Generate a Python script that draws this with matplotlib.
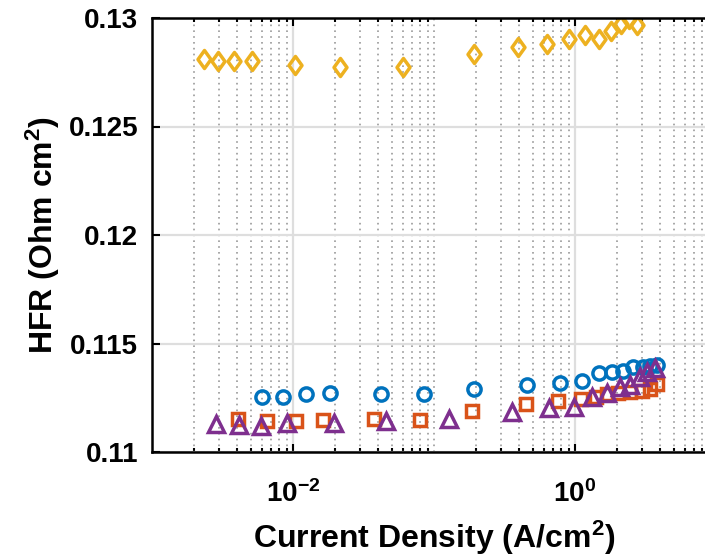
"""HFR vs current density, four conditions, log x axis (MATLAB-style look)."""

import matplotlib

matplotlib.use("Agg")
import matplotlib.pyplot as plt
import numpy as np
from matplotlib.path import Path
from matplotlib.ticker import LogLocator, NullFormatter

plt.rcParams["font.family"] = ["Liberation Sans", "DejaVu Sans"]
plt.rcParams["font.weight"] = "bold"
plt.rcParams["mathtext.fontset"] = "custom"
plt.rcParams["mathtext.rm"] = "Liberation Sans:bold"
plt.rcParams["mathtext.bf"] = "Liberation Sans:bold"
plt.rcParams["mathtext.default"] = "regular"

# --- data ---
j_circle = [0.00605, 0.00845, 0.01236, 0.01828, 0.0418, 0.0849, 0.191, 0.459, 0.783,
            1.112, 1.479, 1.815, 2.19, 2.58, 3.02, 3.40, 3.82]
hfr_circle = [0.11255, 0.11252, 0.11267, 0.11270, 0.11267, 0.11266, 0.11290, 0.11307, 0.11317,
              0.11329, 0.11363, 0.11367, 0.11375, 0.11390, 0.11393, 0.11396, 0.11402]

j_square = [0.00409, 0.00658, 0.0105, 0.01625, 0.0375, 0.0796, 0.185, 0.447, 0.762,
            1.104, 1.403, 1.68, 2.03, 2.45, 2.97, 3.40, 3.83]
hfr_square = [0.11151, 0.11144, 0.11143, 0.11149, 0.11154, 0.11147, 0.11189, 0.11219, 0.11235,
              0.11244, 0.11255, 0.11266, 0.11271, 0.11275, 0.11282, 0.11289, 0.11312]

j_diamond = [0.00234, 0.00292, 0.00382, 0.00514, 0.01038, 0.0214, 0.060, 0.193, 0.396,
             0.637, 0.906, 1.178, 1.487, 1.80, 2.11, 2.42, 2.77]
hfr_diamond = [0.12812, 0.12802, 0.12802, 0.12802, 0.12783, 0.12776, 0.12776, 0.12835, 0.12868,
               0.12879, 0.12902, 0.12922, 0.12905, 0.12940, 0.12974, 0.12994, 0.12968]

j_triangle = [0.00284, 0.00416, 0.00593, 0.00902, 0.0196, 0.0457, 0.127, 0.360, 0.651,
              0.989, 1.313, 1.68, 2.09, 2.45, 2.89, 3.26, 3.69]
hfr_triangle = [0.11129, 0.11124, 0.11121, 0.11132, 0.11132, 0.11143, 0.11151, 0.11186, 0.11201,
                0.11207, 0.11255, 0.11271, 0.11301, 0.11309, 0.11347, 0.11370, 0.11386]

y_ticks = [0.11, 0.115, 0.12, 0.125, 0.13]
y_ticklabels = ["0.11", "0.115", "0.12", "0.125", "0.13"]
x_ticks = [1e-2, 1e0]
x_ticklabels = [r"10$^{-2}$", r"10$^{0}$"]

# slightly tall diamond like the reference's
DIAMOND = Path([(0, 1), (0.72, 0), (0, -1), (-0.72, 0), (0, 1)],
               [Path.MOVETO, Path.LINETO, Path.LINETO, Path.LINETO, Path.CLOSEPOLY])


def main():
    fig = plt.figure(figsize=(7.05, 5.57), dpi=100)
    ax = fig.add_axes([152 / 705, 1 - 452 / 557, 564 / 705, 434 / 557])

    mk = dict(linestyle="none", markerfacecolor="none", markeredgewidth=2.5)
    ax.plot(j_circle, hfr_circle, marker="o", color="#0072BD", markersize=9.5, **mk)
    ax.plot(j_square, hfr_square, marker="s", color="#D95319", markersize=8, **mk)
    ax.plot(j_diamond, hfr_diamond, marker=DIAMOND, color="#EDB120", markersize=13, **mk)
    ax.plot(j_triangle, hfr_triangle, marker="^", color="#7E2F8E", markersize=11, **mk)

    ax.set_xscale("log")
    ax.set_xlim(1e-3, 1e1)
    ax.set_ylim(0.11, 0.13)

    ax.set_xticks(x_ticks, x_ticklabels)
    ax.xaxis.set_minor_locator(LogLocator(base=10, subs=np.arange(2, 10)))
    ax.xaxis.set_minor_formatter(NullFormatter())
    ax.set_yticks(y_ticks, y_ticklabels)

    ax.grid(True, which="major", color="#dedede", linewidth=1.6, linestyle="-")
    ax.grid(True, which="minor", axis="x", color="#9a9a9a", linewidth=1.2, linestyle=(0, (1, 2.5)))
    ax.set_axisbelow(True)
    # 10^-1 is an unlabelled decade: drawn like a minor line
    ax.axvline(1e-1, color="#9a9a9a", linewidth=1.2, linestyle=(0, (1, 2.5)), zorder=0)

    for s in ax.spines.values():
        s.set_linewidth(1.8)
    ax.tick_params(which="both", direction="in", top=True, right=True, width=1.5,
                   labelsize=20, colors="black")
    ax.tick_params(which="major", length=6)
    ax.tick_params(which="minor", length=3)
    ax.tick_params(axis="x", pad=20)
    ax.tick_params(axis="y", pad=10)

    ax.set_xlabel(r"Current Density (A/cm$^{2}$)", fontsize=23, fontweight="bold", labelpad=8)
    ax.set_ylabel(r"HFR (Ohm cm$^{2}$)", fontsize=23, fontweight="bold", labelpad=5)

    fig.savefig("out.png", dpi=100)


if __name__ == "__main__":
    main()
